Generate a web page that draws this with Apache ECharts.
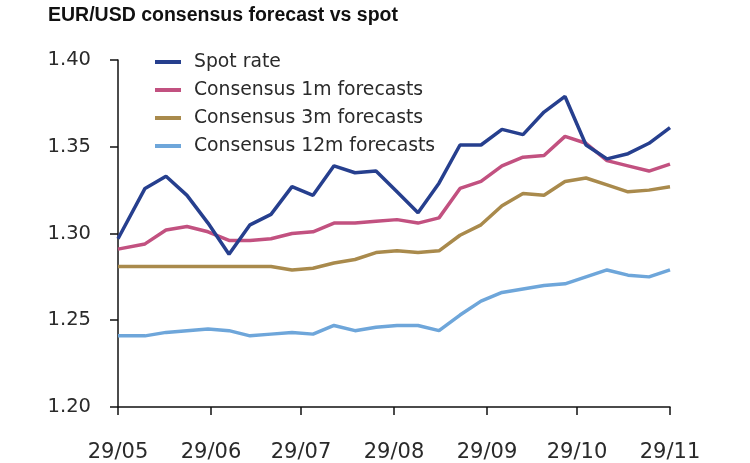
<!DOCTYPE html>
<html>
<head>
<meta charset="utf-8">
<script src="https://cdn.jsdelivr.net/npm/echarts@6/dist/echarts.min.js"></script>
<style>
html,body{margin:0;padding:0;background:#fff;}
#chart{width:750px;height:463px;}
</style>
</head>
<body>
<div id="chart"></div>
<script>
// Observation dates (2013)
const dates = ['2013-05-29','2013-06-07','2013-06-14','2013-06-21','2013-06-28','2013-07-05','2013-07-12','2013-07-19','2013-07-26','2013-08-02','2013-08-09','2013-08-16','2013-08-23','2013-08-30','2013-09-06','2013-09-13','2013-09-20','2013-09-27','2013-10-04','2013-10-11','2013-10-18','2013-10-25','2013-11-01','2013-11-08','2013-11-15','2013-11-22','2013-11-29'];
const tickDates = ['2013-05-29','2013-06-29','2013-07-29','2013-08-29','2013-09-29','2013-10-29','2013-11-29'];
const tickLabels = ['29/05','29/06','29/07','29/08','29/09','29/10','29/11'];
const seriesNames = ['Spot rate','Consensus 1m forecasts','Consensus 3m forecasts','Consensus 12m forecasts'];
const spot = [1.297,1.326,1.333,1.322,1.306,1.288,1.305,1.311,1.327,1.322,1.339,1.335,1.336,1.324,1.312,1.329,1.351,1.351,1.360,1.357,1.370,1.379,1.351,1.343,1.346,1.352,1.361];
const fc1m = [1.291,1.294,1.302,1.304,1.301,1.296,1.296,1.297,1.300,1.301,1.306,1.306,1.307,1.308,1.306,1.309,1.326,1.330,1.339,1.344,1.345,1.356,1.352,1.342,1.339,1.336,1.340];
const fc3m = [1.281,1.281,1.281,1.281,1.281,1.281,1.281,1.281,1.279,1.280,1.283,1.285,1.289,1.290,1.289,1.290,1.299,1.305,1.316,1.323,1.322,1.330,1.332,1.328,1.324,1.325,1.327];
const fc12m = [1.241,1.241,1.243,1.244,1.245,1.244,1.241,1.242,1.243,1.242,1.247,1.244,1.246,1.247,1.247,1.244,1.253,1.261,1.266,1.268,1.270,1.271,1.275,1.279,1.276,1.275,1.279];
const yTicks = [1.20,1.25,1.30,1.35,1.40];

const colors = ['#263f8e','#c25180','#a98a4c','#6ea6da'];
const day0 = Date.UTC(2013,4,29);
const toDay = s => { const p = s.split('-').map(Number); return (Date.UTC(p[0],p[1]-1,p[2]) - day0) / 86400000; };
const xs = dates.map(toDay);
const tickX = tickDates.map(toDay);
const allSeries = [spot, fc1m, fc3m, fc12m];

const chart = echarts.init(document.getElementById('chart'), null, {renderer:'canvas'});
const font = 'DejaVu Sans, sans-serif';
chart.setOption({
  animation:false,
  backgroundColor:'#fff',
  title:{
    text:'EUR/USD consensus forecast vs spot',
    left:43, top:1,
    textStyle:{fontFamily:'Liberation Sans, Arial, sans-serif', fontSize:19.5, fontWeight:'bold', color:'#111'}
  },
  legend:{
    orient:'vertical', left:150, top:47,
    itemWidth:26, itemHeight:4, itemGap:8,
    icon:'rect',
    data:seriesNames,
    textStyle:{fontFamily:font, fontSize:18.8, color:'#2a2a2a', lineHeight:20, padding:[0,0,0,8]}
  },
  grid:{left:118, right:80, top:60, bottom:55, containLabel:false},
  xAxis:{
    type:'value', min:tickX[0], max:tickX[tickX.length-1],
    axisLine:{show:true, lineStyle:{color:'#111', width:1.5}},
    axisTick:{show:true, customValues:tickX, length:8, lineStyle:{color:'#111', width:1.5}},
    axisLabel:{customValues:tickX, margin:35, fontFamily:font, fontSize:21, color:'#2a2a2a',
      formatter:v => tickLabels[tickX.indexOf(v)] || ''},
    splitLine:{show:false}
  },
  yAxis:{
    type:'value', min:yTicks[0], max:yTicks[yTicks.length-1], interval:0.05,
    axisLine:{show:true, lineStyle:{color:'#111', width:1.5}},
    axisTick:{show:true, inside:false, length:8, lineStyle:{color:'#111', width:1.5}},
    axisLabel:{margin:27, fontFamily:font, fontSize:19.5, color:'#2a2a2a', formatter:v => v.toFixed(2)},
    splitLine:{show:false}
  },
  series: seriesNames.map((n,i) => ({
    name:n, type:'line', symbol:'none', z: 10 - i,
    lineStyle:{color:colors[i], width:3.5},
    itemStyle:{color:colors[i]},
    data: xs.map((x,j) => [x, allSeries[i][j]])
  }))
});
</script>
</body>
</html>
